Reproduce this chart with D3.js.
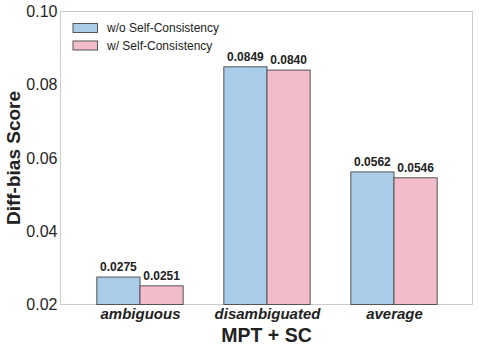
<!DOCTYPE html>
<html><head><meta charset="utf-8">
<script src="https://cdn.jsdelivr.net/npm/d3@7"></script>
<style>body{margin:0;background:#fff;} text{font-family:"Liberation Sans",Arial,sans-serif;}</style>
</head><body><svg id="c" width="479" height="351"></svg>
<script>
const categories = ["ambiguous", "disambiguated", "average"];
const seriesNames = ["w/o Self-Consistency", "w/ Self-Consistency"];
const withoutSC = [0.0275, 0.0849, 0.0562];
const withSC = [0.0251, 0.0840, 0.0546];
const yTicks = [0.02, 0.04, 0.06, 0.08, 0.10];
const colors = ["#a9cce8", "#f2bccb"];

const svg = d3.select("#c");
const L = 60.5, R = 472.5, T = 11.5, B = 304.5;
const x = d3.scaleLinear().domain([0, 2]).range([140, 394]);
const y = d3.scaleLinear().domain([0.02, 0.10]).range([B, T]);
const bw = 0.34;

svg.append("rect").attr("x", L).attr("y", T).attr("width", R - L).attr("height", B - T)
  .attr("fill", "#fff").attr("stroke", "#cccccc").attr("stroke-width", 1);

const series = [withoutSC, withSC];
series.forEach((vals, si) => {
  const off = si === 0 ? -bw : 0;
  const g = svg.append("g");
  g.selectAll("rect").data(vals).join("rect")
    .attr("x", (d, i) => x(i + off))
    .attr("width", x(bw) - x(0))
    .attr("y", d => y(d))
    .attr("height", d => B - y(d))
    .attr("fill", colors[si]).attr("stroke", "#555").attr("stroke-width", 1);
  g.selectAll("text").data(vals).join("text")
    .attr("x", (d, i) => x(i + off + bw / 2))
    .attr("y", d => y(d) - 6)
    .attr("text-anchor", "middle").attr("font-size", 12).attr("font-weight", "bold").attr("fill", "#222")
    .text(d => d.toFixed(4));
});

const yAxis = d3.axisLeft(y).tickValues(yTicks).tickFormat(d3.format(".2f")).tickSize(0).tickPadding(3);
const ya = svg.append("g").attr("transform", `translate(${L},0)`).call(yAxis);
ya.select(".domain").remove();
ya.selectAll("text").attr("font-size", 16).attr("fill", "#262626").attr("font-family", "Liberation Sans, Arial, sans-serif");

const xAxis = d3.axisBottom(x).tickValues([0, 1, 2]).tickFormat(i => categories[i]).tickSize(0).tickPadding(4);
const xa = svg.append("g").attr("transform", `translate(0,${B})`).call(xAxis);
xa.select(".domain").remove();
xa.selectAll("text").attr("font-size", 15).attr("font-weight", "bold").attr("font-style", "italic").attr("fill", "#222")
  .attr("font-family", "Liberation Sans, Arial, sans-serif");

svg.append("text").attr("x", 266.5).attr("y", 342).attr("text-anchor", "middle")
  .attr("font-size", 19.5).attr("font-weight", "bold").attr("fill", "#222").text("MPT + SC");
svg.append("text").attr("transform", `translate(20,${(T + B) / 2}) rotate(-90)`).attr("text-anchor", "middle")
  .attr("font-size", 19).attr("font-weight", "bold").attr("fill", "#222").text("Diff-bias Score");

const lg = svg.append("g");
seriesNames.forEach((n, i) => {
  lg.append("rect").attr("x", 73).attr("y", 23.5 + i * 17.5).attr("width", 24.5).attr("height", 9)
    .attr("fill", colors[i]).attr("stroke", "#555").attr("stroke-width", 1);
  lg.append("text").attr("x", 107).attr("y", 32.3 + i * 17.5).attr("font-size", 12).attr("fill", "#222").text(n);
});
</script></body></html>
